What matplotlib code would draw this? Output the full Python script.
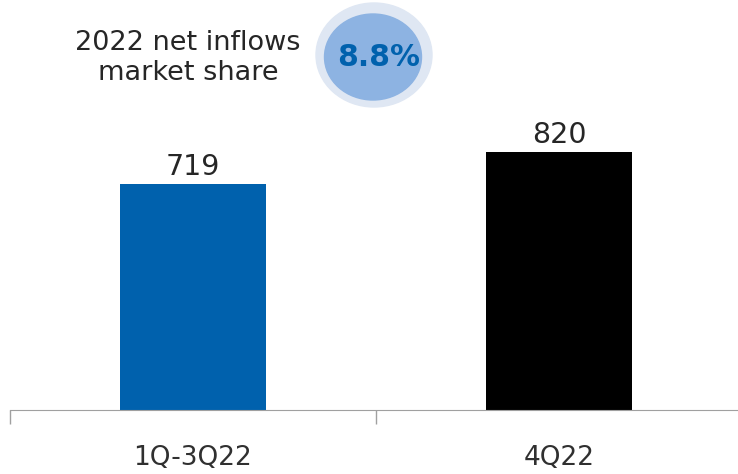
import matplotlib.pyplot as plt
from matplotlib.patches import Ellipse

# dados
categorias = ['1Q-3Q22', '4Q22']
valores = [719, 820]
cores = ['#0061ad', '#000000']
titulo = '2022 net inflows\nmarket share'
quota = '8.8%'

fig = plt.figure(figsize=(7.38, 4.74), dpi=100)
ax = fig.add_axes([10 / 738, 1 - 410 / 474, 732 / 738, 377 / 474])

x = range(len(categorias))
bars = ax.bar(x, valores, width=0.4, color=cores)
for b, v in zip(bars, valores):
    ax.text(b.get_x() + b.get_width() / 2, v + 10, str(v),
            ha='center', va='bottom', fontsize=20.5, color='#262626')

ax.set_xlim(-0.5, 1.5)
ax.set_ylim(0, 1200)
ax.set_yticks([])
ax.set_xticks([-0.5, 0.5, 1.5])
ax.set_xticklabels([])
ax.set_xticks([0, 1], minor=True)
ax.set_xticklabels(categorias, minor=True, fontsize=19, color='#303030')
ax.tick_params(axis='x', which='major', length=10, color='#a0a0a0', width=1)
ax.tick_params(axis='x', which='minor', length=0, pad=25)
for s in ['top', 'right', 'left']:
    ax.spines[s].set_visible(False)
ax.spines['bottom'].set_color('#a0a0a0')

# titulo e circulo
fig.text(188 / 738, 1 - 58 / 474, titulo, ha='center', va='center',
         fontsize=19.5, color='#262626', linespacing=1.2)
fig.add_artist(Ellipse((374 / 738, 1 - 55 / 474), 116 / 738, 104 / 474,
                       transform=fig.transFigure, color='#dfe7f3'))
fig.add_artist(Ellipse((373 / 738, 1 - 57 / 474), 97 / 738, 86 / 474,
                       transform=fig.transFigure, color='#8db3e2'))
fig.text(379 / 738, 1 - 58 / 474, quota, ha='center', va='center',
         fontsize=21.5, fontweight='bold', color='#0061ad')

fig.savefig('out.png', dpi=100)
